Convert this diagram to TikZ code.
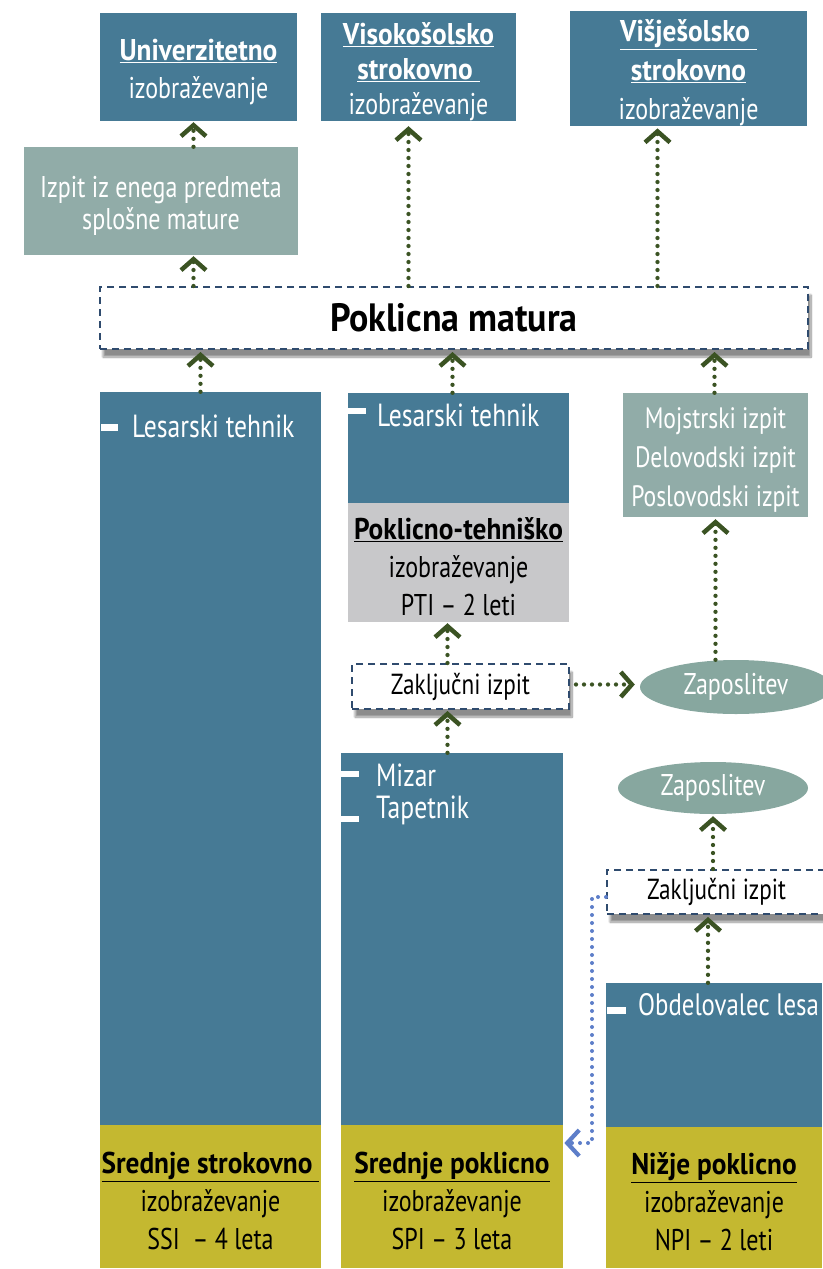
\documentclass[tikz,border=0pt]{standalone}
\usepackage{fontspec}
\setmainfont[FakeStretch=0.8]{PT Sans}
\newfontfamily\tbf[FakeStretch=0.91]{PT Sans}
\usetikzlibrary{arrows.meta,shapes.geometric,shadows.blur,decorations.markings}
\definecolor{cblue}{RGB}{70,122,149}
\definecolor{colive}{RGB}{196,184,48}
\definecolor{cgray}{RGB}{200,200,202}
\definecolor{cgg}{RGB}{145,172,168}
\definecolor{cell}{RGB}{135,167,159}
\definecolor{cdash}{RGB}{47,75,110}
\definecolor{carr}{RGB}{59,83,35}
\definecolor{cbl}{RGB}{93,126,201}
\newcommand{\ttl}[1]{{\tbf\bfseries\underline{#1}}}
\newcommand{\tp}{\rule{0pt}{31pt}}
\begin{document}
\begin{tikzpicture}[x=1pt,y=-1pt,
  box/.style={rectangle, inner sep=0pt, align=center, font=\fontsize{30}{38}\selectfont},
  bluebox/.style={box, fill=cblue, text=white},
  olivebox/.style={box, fill=colive, text=black},
  dbox/.style={box, fill=white, draw=cdash, line width=2pt, dash pattern=on 7pt off 5pt,
     blur shadow={shadow xshift=3pt, shadow yshift=-8pt, shadow blur steps=12, shadow opacity=45}},
  ell/.style={ellipse, inner sep=0pt, fill=cell, text=white, font=\fontsize{30}{38}\selectfont},
  tipg/.style={decoration={markings, mark=at position 1 with {\draw[solid, draw=carr, line width=4.5pt,
     line cap=butt, line join=miter] (-11pt,12.5pt) -- (0pt,0pt) -- (-11pt,-12.5pt);}}, decorate},
  tipb/.style={decoration={markings, mark=at position 1 with {\draw[solid, draw=cbl, line width=4.2pt,
     line cap=butt, line join=miter] (-12pt,13pt) -- (0pt,0pt) -- (-12pt,-13pt);}}, decorate},
  arr/.style={draw=carr, line width=4.3pt, line cap=round, dash pattern=on 0pt off 8pt,
     postaction={tipg}},
  barr/.style={draw=cbl, line width=4pt, line cap=round, dash pattern=on 0pt off 8pt,
     postaction={tipb}},
  item/.style={anchor=base west, inner sep=0pt, text=white, font=\fontsize{32}{38}\selectfont},
  bul/.style={fill=white, draw=none}
]
\useasboundingbox (0,0) rectangle (822,1269);

% top row
\node[bluebox, minimum width=197pt, minimum height=108pt] (univ) at (198.5,67)
  {\tp\ttl{Univerzitetno}\\izobraževanje};
\node[bluebox, minimum width=195pt, minimum height=108pt, font=\fontsize{30}{35}\selectfont] (viso) at (418.5,67)
  {\tp\ttl{Visokošolsko}\\\ttl{strokovno }\\izobraževanje};
\node[bluebox, minimum width=237pt, minimum height=115pt, font=\fontsize{30}{39}\selectfont] (visje) at (688.5,68.5)
  {\tp\ttl{Višješolsko }\\\ttl{strokovno}\\izobraževanje};
\node[box, fill=cgg, text=white, minimum width=274pt, minimum height=108pt,
  font=\fontsize{30}{32}\selectfont] (izpit) at (161,201)
  {\tp Izpit iz enega predmeta\\splošne mature};

% poklicna matura
\node[dbox, minimum width=708pt, minimum height=62pt, font=\fontsize{39.5}{44}\selectfont\tbf\bfseries] (pm) at (454,318) {Poklicna matura};

% column 1
\node[bluebox, minimum width=221pt, minimum height=733pt] (c1) at (210.5,758.5) {};
\node[olivebox, minimum width=221pt, minimum height=143pt] (c1o) at (210.5,1196.5)
  {\tp\ttl{Srednje strokovno }\\izobraževanje\\SSI~ – 4 leta};
\fill[bul] (101,424) rectangle (118,431);
\node[item] (c1t) at (132,437) {Lesarski tehnik};

% column 2 top
\node[bluebox, minimum width=221pt, minimum height=110pt] (c2a) at (458.5,448) {};
\node[box, fill=cgray, text=black, minimum width=221pt, minimum height=119pt] (pti) at (458.5,562.5)
  {\tp\ttl{Poklicno-tehniško}\\izobraževanje\\PTI – 2 leti};
\fill[bul] (348,408) rectangle (366,414);
\node[item] (c2at) at (377,426) {Lesarski tehnik};

% Mojstrski
\node[box, fill=cgg, text=white, minimum width=185pt, minimum height=124pt, font=\fontsize{29.5}{39}\selectfont] (moj) at (715.5,455)
  {\tp Mojstrski izpit\\Delovodski izpit\\Poslovodski izpit};

% Zakljucni 1
\node[dbox, minimum width=217pt, minimum height=45pt, font=\fontsize{29}{30}\selectfont] (zak1) at (460.5,686.5) {Zaključni izpit};
\node[ell, minimum width=192pt, minimum height=54pt] (zap1) at (736,687) {Zaposlitev};

% column 2 middle
\node[bluebox, minimum width=222pt, minimum height=372pt] (c2b) at (452,939) {};
\node[olivebox, minimum width=222pt, minimum height=143pt] (c2o) at (452,1196.5)
  {\tp\ttl{Srednje poklicno}\\izobraževanje\\SPI – 3 leta};
\fill[bul] (341,771) rectangle (359,777);
\fill[bul] (341,816) rectangle (359,822);
\node[item] (miz) at (376,786) {Mizar};
\node[item] (tap) at (376,818) {Tapetnik};

% right lower
\node[ell, minimum width=190pt, minimum height=52pt] (zap2) at (713,788) {Zaposlitev};
\node[dbox, minimum width=219pt, minimum height=44pt, font=\fontsize{29}{30}\selectfont] (zak2) at (716.5,892) {Zaključni izpit};
\node[bluebox, minimum width=216pt, minimum height=144pt] (c3) at (714,1055) {};
\node[olivebox, minimum width=216pt, minimum height=141pt] (c3o) at (714,1197.5)
  {\tp\ttl{Nižje poklicno}\\izobraževanje\\NPI – 2 leti};
\fill[bul] (607,1007) rectangle (626,1014);
\node[item, font=\fontsize{31}{38}\selectfont] (obd) at (638,1015) {Obdelovalec lesa};

% arrow x positions
\coordinate (xa) at ([xshift=-5pt]univ.south);
\coordinate (xb) at ([xshift=-10pt]viso.south);
\coordinate (xc) at ([xshift=-31pt]visje.south);
\coordinate (xd) at ([xshift=-10pt]c1.north);
\coordinate (xe) at ([xshift=-6pt]c2a.north);
\coordinate (xf) at ([xshift=-1pt]moj.north);
\coordinate (xg) at ([xshift=-13pt]zak1.north);
\coordinate (xh) at ([xshift=-6pt]c3.north);
\coordinate (yz) at ([xshift=6pt,yshift=2pt]zak1.east);
\coordinate (yb) at (592,1143);

% arrows
\draw[arr] (izpit.north -| xa) -- ([yshift=-4pt]xa);
\draw[arr] (pm.north -| xa) -- ([yshift=-4pt]izpit.south -| xa);
\draw[arr] (pm.north -| xb) -- ([yshift=-8pt]xb);
\draw[arr] (pm.north -| xc) -- ([yshift=-5pt]xc);
\draw[arr] (xd) -- ([yshift=-5pt]pm.south -| xd);
\draw[arr] (xe) -- ([yshift=-5pt]pm.south -| xe);
\draw[arr] (xf) -- ([yshift=-5pt]pm.south -| xf);
\draw[arr] (xg) -- ([yshift=-4pt]pti.south -| xg);
\draw[arr] (c2b.north -| xg) -- ([yshift=-4pt]zak1.south -| xg);
\draw[arr] (yz) -- ([xshift=-8pt]zap1.west |- yz);
\draw[arr] (zap1.north -| moj.south) -- ([yshift=-5pt]moj.south);
\draw[arr] (zak2.north -| zap2.south) -- ([yshift=-5pt]zap2.south);
\draw[arr] (xh) -- ([yshift=-5pt]zak2.south -| xh);
\draw[barr] ([yshift=-5pt]zak2.west) -- ([yshift=-5pt]zak2.west -| yb) -- (yb) -- ([xshift=4pt]c2o.east |- yb);
\end{tikzpicture}
\end{document}
